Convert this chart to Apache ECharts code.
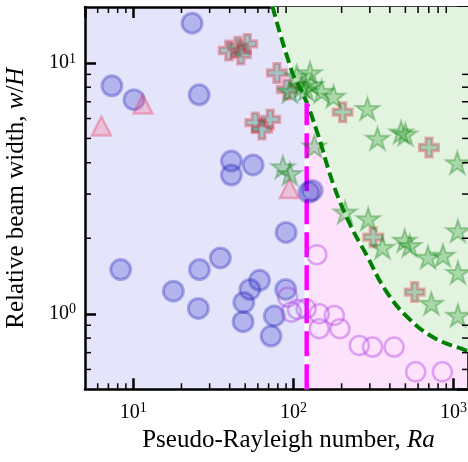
<!DOCTYPE html>
<html><head><meta charset="utf-8">
<script src="https://cdn.jsdelivr.net/npm/echarts@6/dist/echarts.min.js"></script>
<style>html,body{margin:0;padding:0;background:#fff;}#c{width:468px;height:462px;}</style>
</head><body><div id="c"></div>
<script>
// ---- data ----
const xRange = [5, 1230];
const yRange = [0.5, 16.7];
const raCritical = 121;
const raCriticalTop = 6.9;
const xMinorTicks = [6,7,8,9,20,30,40,50,60,70,80,90,200,300,400,500,600,700,800,900];
const yMinorTicks = [0.6,0.7,0.8,0.9,2,3,4,5,6,7,8,9];
const boundaryRa = [74, 98.6, 116.6, 141, 179, 228, 284, 378, 527, 773, 1188, 1230];
const boundaryW  = [16.8, 9.13, 7.37, 5.27, 3.23, 2.24, 1.73, 1.234, 0.955, 0.796, 0.715, 0.71];
const blueCircles = [[23.3,14.4],[7.36,8.1],[10.1,7.13],[25.8,7.46],[41,4.06],[41,3.57],[56,3.92],[90,2.11],[35,1.67],[8.35,1.5],[25.9,1.5],[17.8,1.23],[25.5,1.05],[61.5,1.36],[53.5,1.25],[49,1.11],[48.5,0.93],[76,0.98],[72.5,0.815],[89.5,1.25],[125,3.05],[131,3.1]];
const pinkTriangles = [[6.33,5.6],[11.5,6.85],[94.4,3.16]];
const pluses = [[39.5,11.2],[45,11.6],[51.5,11.9],[47,10.8],[57.8,5.78],[71.6,5.95],[63.6,5.43],[78.9,9.12],[91,7.83],[203,6.36],[702,4.6],[315,2.02],[572,1.22]];
const stars = [[95,7.7],[105,8.85],[113,8.07],[120,7.85],[127,9.12],[130,8.2],[150,7.7],[178,7.35],[290,6.57],[335,5.0],[470,5.3],[500,5.2],[1055,4.0],[135,4.66],[86,3.85],[95,3.62],[210,2.54],[293,2.39],[360,1.84],[495,1.96],[532,1.87],[692,1.68],[858,1.71],[1064,1.46],[1064,2.14],[727,1.10],[1064,0.985]];
const hollowCircles = [[140,1.72],[92,1.165],[97,1.016],[106,1.04],[120,1.047],[145,1.0],[180,0.985],[145,0.872],[195,0.872],[258,0.748],[312,0.737],[425,0.737],[580,0.587],[851,0.587]];
const regions = [[xRange[0], raCritical], [raCritical, xRange[1]]];
const regionColors = ['#e4e4fa', '#fde2fb'];

// ---- styles ----
const FONT = 'Liberation Serif';
const starPath = 'path://M0,-1L0.2245,-0.309L0.9511,-0.309L0.3633,0.118L0.5878,0.809L0,0.382L-0.5878,0.809L-0.3633,0.118L-0.9511,-0.309L-0.2245,-0.309Z';
const plusPath = 'path://M-1,-3L1,-3L1,-1L3,-1L3,1L1,1L1,3L-1,3L-1,1L-3,1L-3,-1L-1,-1Z';

function sciLabel(v) {
  const l = Math.log10(v), e = Math.round(l);
  if (Math.abs(l - e) > 1e-6) return '';
  return '{b|10}{s|' + e + '}';
}
const tickRich = {
  b: {fontFamily: FONT, fontSize: 20, color: '#000'},
  s: {fontFamily: FONT, fontSize: 14, color: '#000', padding: [0, 0, 8, 0]}
};
function axisBase(pos, isX, showLabel) {
  return {
    type: 'log', logBase: 10, position: pos,
    min: isX ? xRange[0] : yRange[0], max: isX ? xRange[1] : yRange[1],
    axisLine: {show: true, onZero: false, lineStyle: {color: '#000', width: 2.5}},
    axisTick: {show: true, inside: true, length: 11, lineStyle: {color: '#000', width: 2.5}},
    minorTick: {show: false},
    splitLine: {show: false},
    axisLabel: {show: showLabel, formatter: sciLabel, rich: tickRich, margin: isX ? 12 : 9, showMinLabel: false, showMaxLabel: false}
  };
}
const nameRich = {n: {fontFamily: FONT, fontSize: 25, color: '#000'}, i: {fontFamily: FONT, fontSize: 25, fontStyle: 'italic', color: '#000'}};
const xBottom = axisBase('bottom', true, true);
xBottom.name = '{n|Pseudo-Rayleigh number, }{i|Ra}';
xBottom.nameLocation = 'middle';
xBottom.nameGap = 39;
xBottom.nameTextStyle = {rich: nameRich, padding: [0, 0, 0, 24]};
const yLeft = axisBase('left', false, true);
yLeft.name = '{n|Relative beam width, }{i|w}{n|/}{i|H}';
yLeft.nameLocation = 'middle';
yLeft.nameGap = 56;
yLeft.nameTextStyle = {rich: nameRich};

function scatter(data, symbol, size, face, edge, bw) {
  return {type: 'scatter', data: data, symbol: symbol, symbolSize: size, symbolKeepAspect: true, z: 5,
    silent: true, itemStyle: {color: face, borderColor: edge, borderWidth: bw, opacity: 1}};
}

const chart = echarts.init(document.getElementById('c'), null, {renderer: 'canvas'});
chart.setOption({
  animation: false,
  backgroundColor: '#fff',
  grid: {left: 85, right: 0, top: 7, bottom: 72.7, containLabel: false, outerBoundsMode: 'none'},
  xAxis: [xBottom, axisBase('top', true, false)],
  yAxis: [yLeft, axisBase('right', false, false)],
  series: [
    {type: 'custom', z: 0, silent: true, data: regions,
      renderItem: function (params, api) {
        const p0 = api.coord([api.value(0), yRange[1]]);
        const p1 = api.coord([api.value(1), yRange[0]]);
        return {type: 'rect', shape: {x: p0[0], y: p0[1], width: p1[0] - p0[0], height: p1[1] - p0[1]},
          style: {fill: regionColors[params.dataIndex]}};
      }},
    {type: 'line', z: 1, silent: true, smooth: 0.4, symbol: 'none',
      data: boundaryRa.map((r, i) => [r, boundaryW[i]]),
      lineStyle: {color: '#fff', width: 4},
      areaStyle: {origin: 'end', color: '#e2f3e0', opacity: 1}},
    {type: 'line', z: 2, silent: true, smooth: 0.4, symbol: 'none',
      data: boundaryRa.map((r, i) => [r, boundaryW[i]]),
      lineStyle: {color: '#008000', width: 4, type: [11, 5]}},
    {type: 'line', z: 2, silent: true, symbol: 'none',
      data: [[raCritical, yRange[0]], [raCritical, raCriticalTop]],
      lineStyle: {color: '#fff', width: 4.5}},
    {type: 'line', z: 3, silent: true, symbol: 'none',
      data: [[raCritical, yRange[0]], [raCritical, raCriticalTop]],
      lineStyle: {color: '#ff00ff', width: 4.5, type: [25, 8]}},
    scatter(blueCircles, 'circle', 20, 'rgba(30,30,200,0.25)', 'rgba(20,20,180,0.30)', 3),
    scatter(hollowCircles, 'circle', 19, 'rgba(0,0,0,0)', 'rgba(170,50,230,0.38)', 2.5),
    scatter(pinkTriangles, 'triangle', 19, 'rgba(255,90,130,0.26)', 'rgba(230,50,90,0.32)', 2.5),
    scatter(pluses, plusPath, 19, 'rgba(0,110,60,0.28)', 'rgba(220,40,60,0.35)', 3),
    scatter(stars, starPath, 23, 'rgba(0,140,0,0.25)', 'rgba(0,120,0,0.30)', 2),
    {type: 'custom', z: 10, silent: true, clip: false,
      data: xMinorTicks.map(v => [v, yRange[0]]),
      renderItem: function (params, api) {
        const b = api.coord([api.value(0), yRange[0]]);
        const t = api.coord([api.value(0), yRange[1]]);
        const st = {stroke: '#000', lineWidth: 1.5};
        return {type: 'group', children: [
          {type: 'line', shape: {x1: b[0], y1: b[1], x2: b[0], y2: b[1] - 6}, style: st},
          {type: 'line', shape: {x1: t[0], y1: t[1], x2: t[0], y2: t[1] + 6}, style: st}
        ]};
      }},
    {type: 'custom', z: 10, silent: true, clip: false,
      data: yMinorTicks.map(v => [xRange[0], v]),
      renderItem: function (params, api) {
        const l = api.coord([xRange[0], api.value(1)]);
        const r = api.coord([xRange[1], api.value(1)]);
        const st = {stroke: '#000', lineWidth: 1.5};
        return {type: 'group', children: [
          {type: 'line', shape: {x1: l[0], y1: l[1], x2: l[0] + 6, y2: l[1]}, style: st},
          {type: 'line', shape: {x1: r[0], y1: r[1], x2: r[0] - 6, y2: r[1]}, style: st}
        ]};
      }}
  ]
});
</script></body></html>
